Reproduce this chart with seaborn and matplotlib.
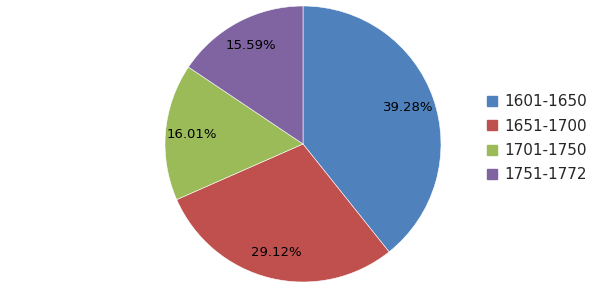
import matplotlib
matplotlib.use("Agg")
import matplotlib.pyplot as plt
from matplotlib.lines import Line2D
import seaborn as sns

categories = ["1601-1650", "1651-1700", "1701-1750", "1751-1772"]
values = [39.28, 29.12, 16.01, 15.59]
colors_hex = ["#4F81BD", "#C0504D", "#9BBB59", "#8064A2"]

sns.set_style("white")
plt.rcParams['font.family'] = ['DejaVu Sans']
palette = sns.color_palette(colors_hex)

fig = plt.figure(figsize=(6.05, 2.88), dpi=100)
ax = fig.add_axes([165/605, 6/288, 276/605, 276/288])
wedges, texts, autotexts = ax.pie(
    values, colors=palette, startangle=90, counterclock=False,
    autopct=lambda p: f"{p:.2f}%", pctdistance=0.81,
    wedgeprops=dict(edgecolor="white", linewidth=0.4),
    textprops=dict(fontsize=9.5, color="black"))
ax.set_aspect("equal")
ax.set_xlim(-1, 1)
ax.set_ylim(-1, 1)

handles = [Line2D([0], [0], marker='s', linestyle='none', markersize=7,
                  markerfacecolor=c, markeredgecolor=c) for c in palette]
fig.legend(handles, categories, loc="center left",
           bbox_to_anchor=(478/605, 0.52), frameon=False, fontsize=11,
           handlelength=0.8, handletextpad=0.4, labelspacing=0.62,
           borderpad=0)
fig.savefig("out.png", dpi=100)
